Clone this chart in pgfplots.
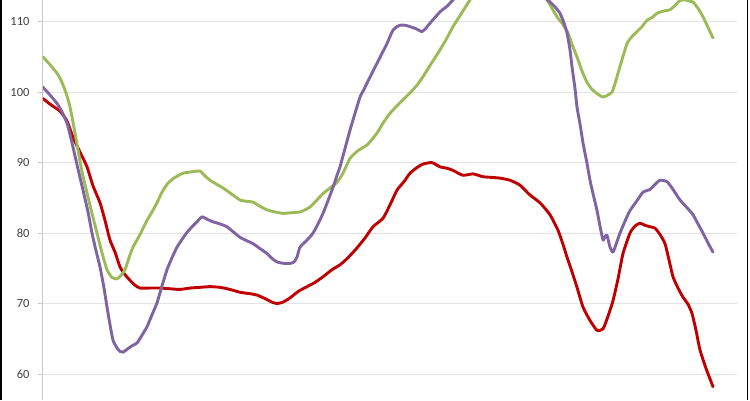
\documentclass[border=0pt]{standalone}
\usepackage{fontspec}
\setmainfont{Carlito}
\usepackage{pgfplots}
\pgfplotsset{compat=1.18}
\definecolor{serred}{HTML}{C00000}
\definecolor{sergreen}{HTML}{9BBB59}
\definecolor{serpurple}{HTML}{8064A2}
\definecolor{gridgray}{HTML}{E3E3E3}
\definecolor{axisgray}{HTML}{C8C8C8}
\definecolor{labelgray}{HTML}{404040}

\begin{document}
\begin{tikzpicture}[x=1pt,y=1pt]
\useasboundingbox (0pt,0pt) rectangle (750pt,400pt);
\begin{axis}[
  at={(43pt,0pt)}, anchor=south west,
  scale only axis, width=694pt, height=400pt,
  xmin=43, xmax=737, ymin=56.31, ymax=113.08,
  axis x line=none, axis y line*=left,
  y axis line style={draw=axisgray, line width=1pt, -},
  ytick={60,70,...,110}, ymajorgrids,
  grid style={draw=gridgray, line width=1pt},
  tick align=outside, major tick length=5pt,
  ytick style={draw=axisgray, line width=1pt},
  yticklabel style={font=\fontsize{12.5}{14}\selectfont, text=labelgray, xshift=-5pt},
  /pgf/number format/assume math mode=true,
  every axis plot/.append style={line width=2.9pt, line join=round, line cap=round, no marks, smooth, tension=0.35},
]
% red series
\addplot[serred] coordinates {
(43,99.1)(50,98.3)(60,97.3)(67,95.9)(73,93.6)(80,91.5)(87,89.4)(93,86.7)(100,84.3)(105,81.8)
(110,79.0)(115,77.3)(120,75.2)(125,74.1)(130,73.3)(135,72.6)(140,72.2)(150,72.2)(160,72.2)(170,72.1)
(180,72.0)(190,72.2)(200,72.3)(210,72.4)(220,72.3)(230,72.0)(240,71.6)(250,71.4)(257,71.2)(265,70.7)
(272,70.2)(277,70.0)(283,70.2)(290,70.8)(298,71.7)(307,72.4)(315,73.0)(323,73.8)(332,74.8)(340,75.5)
(348,76.5)(357,77.9)(365,79.3)(373,80.9)(383,82.1)(390,84.0)(397,86.1)(404,87.3)(410,88.5)(417,89.3)
(423,89.8)(432,90.0)(440,89.4)(447,89.2)(453,88.9)(463,88.2)(473,88.4)(483,88.0)(492,87.9)(500,87.8)
(510,87.5)(520,86.8)(530,85.4)(540,84.3)(550,82.6)(558,80.4)(563,78.4)(567,76.6)(572,74.5)(577,72.3)
(583,69.5)(590,67.6)(597,66.2)(603,66.4)(608,68.2)(613,70.4)(618,73.5)(623,77.1)(630,80.0)(635,81.0)
(640,81.4)(645,81.1)(650,80.9)(655,80.7)(660,79.8)(665,78.5)(669,76.2)(673,73.8)(678,72.2)(683,70.9)
(688,69.9)(692,68.6)(696,66.2)(700,63.4)(706,60.8)(713,58.2)
};
% green series
\addplot[sergreen] coordinates {
(43,105.0)(50,103.9)(57,102.7)(61,101.7)(65,100.3)(69,98.5)(72,96.5)(75,94.2)(78,91.8)(82,88.7)
(87,85.7)(92,82.8)(97,80.0)(102,77.2)(107,74.8)(112,73.7)(117,73.5)(121,74.0)(125,74.8)(129,76.5)
(133,78.0)(140,79.8)(147,81.8)(152,83.0)(157,84.3)(162,85.8)(168,87.1)(175,87.9)(183,88.5)(192,88.7)
(200,88.8)(205,88.1)(210,87.5)(217,86.9)(223,86.4)(232,85.5)(240,84.7)(247,84.5)(253,84.4)(260,83.8)
(267,83.3)(275,83.0)(283,82.8)(292,82.9)(300,83.0)(305,83.3)(310,83.7)(317,84.7)(323,85.6)(330,86.4)
(337,87.2)(343,88.5)(350,90.6)(358,91.7)(367,92.5)(372,93.3)(377,94.2)(383,95.6)(390,97.0)(400,98.5)
(410,99.9)(417,101.0)(423,102.2)(431,104.0)(440,106.0)(447,107.7)(453,109.3)(462,111.3)(470,113.1)(480,115.0)
(490,116.2)(500,116.8)(510,117.0)(520,116.5)(530,115.6)(540,114.2)(547,113.1)(552,111.9)(557,110.7)(563,109.6)
(568,108.4)(572,106.8)(577,105.0)(582,103.0)(587,101.4)(592,100.4)(597,99.8)(603,99.3)(608,99.6)(612,100.0)
(615,101.2)(617,102.2)(622,104.6)(627,106.9)(632,107.9)(637,108.6)(642,109.3)(647,110.2)(652,110.6)(657,111.2)
(663,111.5)(670,111.7)(675,112.3)(680,113.0)(685,113.1)(690,112.9)(693,112.8)(698,111.9)(703,110.7)(708,109.2)
(713,107.7)
};
% purple series
\addplot[serpurple] coordinates {
(43,100.7)(50,99.6)(57,98.4)(62,97.2)(67,95.6)(70,94.0)(73,92.2)(78,89.1)(83,86.1)(88,83.0)
(92,80.0)(96,77.5)(100,75.2)(104,72.2)(107,69.5)(110,67.0)(113,64.8)(117,63.7)(120,63.2)(123,63.1)
(127,63.5)(132,64.0)(137,64.4)(142,65.5)(147,66.7)(152,68.4)(157,70.1)(162,72.5)(167,74.8)(172,76.5)
(177,78.0)(182,79.1)(187,80.1)(192,80.9)(197,81.6)(202,82.3)(208,81.9)(213,81.6)(220,81.3)(227,80.9)
(233,80.2)(240,79.4)(247,78.9)(253,78.5)(260,77.8)(267,77.1)(272,76.4)(277,75.9)(284,75.7)(290,75.7)
(294,75.9)(297,76.6)(300,78.0)(307,79.0)(313,80.0)(318,81.3)(323,82.8)(328,84.6)(333,86.5)(337,88.2)
(340,89.4)(345,92.0)(350,94.6)(355,97.0)(360,99.3)(364,100.4)(367,101.3)(372,102.7)(377,104.1)(382,105.5)
(387,106.9)(390,107.9)(393,108.8)(397,109.3)(400,109.5)(405,109.5)(410,109.3)(416,109.0)(422,108.6)(426,109.1)
(430,109.8)(435,110.6)(440,111.4)(447,112.2)(453,113.1)(460,114.3)(470,115.8)(480,116.8)(490,117.4)(500,117.6)
(510,117.2)(520,116.3)(530,115.2)(540,114.0)(550,112.8)(555,112.1)(560,111.2)(564,109.8)(567,108.4)(570,106.0)
(572,103.6)(575,100.5)(577,97.9)(580,95.5)(583,92.8)(587,89.9)(590,87.5)(593,85.6)(597,83.2)(600,81.0)
(603,79.0)(605,79.5)(607,79.7)(610,78.0)(613,77.3)(617,78.8)(620,80.0)(625,81.7)(630,83.2)(637,84.6)
(643,85.8)(650,86.2)(655,86.9)(660,87.5)(667,87.3)(673,86.2)(680,84.7)(687,83.6)(693,82.6)(698,81.3)
(703,80.0)(708,78.6)(713,77.3)
};
\end{axis}
\draw[black, line width=1.6pt] (0.8pt,0pt) -- (0.8pt,400pt);
\draw[black, line width=1.4pt] (747.3pt,0pt) -- (747.3pt,400pt);
\end{tikzpicture}
\end{document}
